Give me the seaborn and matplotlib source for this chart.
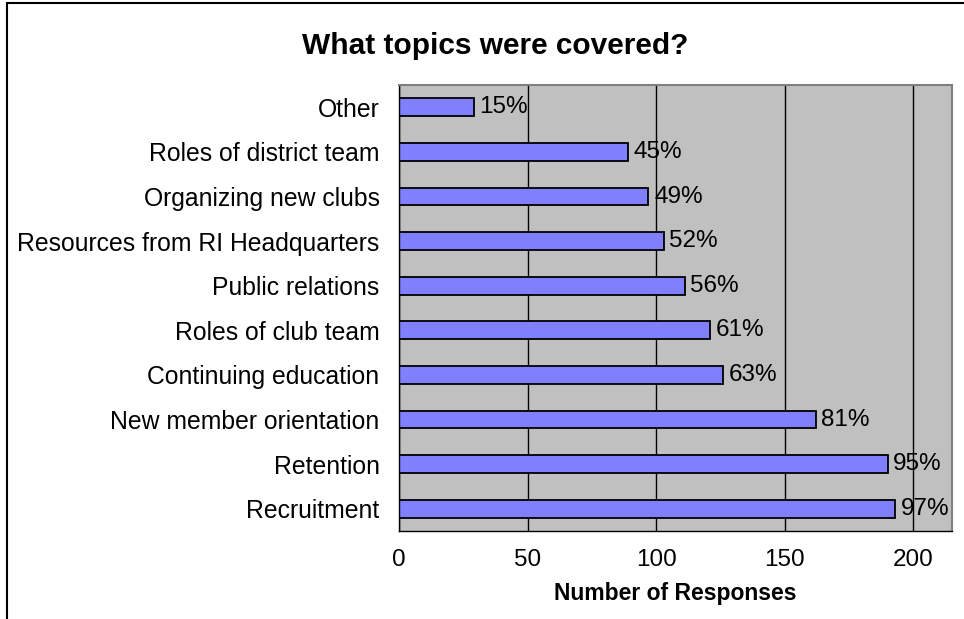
import numpy as np
import pandas as pd
import seaborn as sns
import matplotlib.pyplot as plt
from matplotlib.lines import Line2D

# 데이터
topics = ['Other', 'Roles of district team', 'Organizing new clubs',
          'Resources from RI Headquarters', 'Public relations', 'Roles of club team',
          'Continuing education', 'New member orientation', 'Retention', 'Recruitment']
responses = [29, 89, 97, 103, 111, 121, 126, 162, 190, 193]
pct_labels = ['15%', '45%', '49%', '52%', '56%', '61%', '63%', '81%', '95%', '97%']
x_ticks = [0, 50, 100, 150, 200]

df = pd.DataFrame({'topic': topics, 'responses': responses})

sns.set_style('white')
plt.rcParams['font.family'] = ['Liberation Sans', 'DejaVu Sans']
plt.rcParams['text.color'] = 'black'
plt.rcParams['xtick.color'] = 'black'
plt.rcParams['ytick.color'] = 'black'
plt.rcParams['axes.labelcolor'] = 'black'

fig = plt.figure(figsize=(9.64, 6.19), dpi=100)
ax = fig.add_axes([399/964, 88/619, 553/964, 446/619])
ax.set_facecolor('#C0C0C0')

sns.barplot(data=df, y='topic', x='responses', orient='h', ax=ax,
            color='#8080FF', saturation=1, width=0.4,
            edgecolor='black', linewidth=1.3)

ax.bar_label(ax.containers[0], labels=pct_labels, padding=4, fontsize=17.5)

ax.set_xlim(0, 215)
ax.set_ylim(len(topics) - 0.5, -0.5)
ax.set_xticks(x_ticks)
ax.set_xticklabels([str(t) for t in x_ticks], fontsize=17.5)
ax.xaxis.grid(True, color='black', linewidth=1)
ax.set_axisbelow(True)

# y 눈금: 카테고리 경계에 표시
ax.set_yticks(np.arange(len(topics)))
ax.set_yticklabels(topics, fontsize=17.8)
ax.set_yticks(np.arange(len(topics) + 1) - 0.5, minor=True)
ax.tick_params(axis='y', which='major', length=0, pad=14)
ax.tick_params(axis='y', which='minor', length=5, width=1, color='black', direction='out')
ax.tick_params(axis='x', length=5, width=1, color='black', direction='out', pad=8)

for s in ['top', 'right']:
    ax.spines[s].set_color('#808080')
    ax.spines[s].set_linewidth(1.5)
for s in ['left', 'bottom']:
    ax.spines[s].set_color('black')
    ax.spines[s].set_linewidth(1)

ax.set_ylabel('')
ax.set_xlabel('Number of Responses', fontsize=16.5, fontweight='bold', labelpad=8)

fig.text(495/964, 1 - 46/619, 'What topics were covered?', fontsize=21.5,
         fontweight='bold', ha='center', va='center')

# 차트 테두리
fig.add_artist(Line2D([7/964, 7/964], [0, 1 - 3/619], color='black', linewidth=1.5))
fig.add_artist(Line2D([7/964, 1], [1 - 3/619, 1 - 3/619], color='black', linewidth=1.5))

fig.savefig('out.png', dpi=100)
